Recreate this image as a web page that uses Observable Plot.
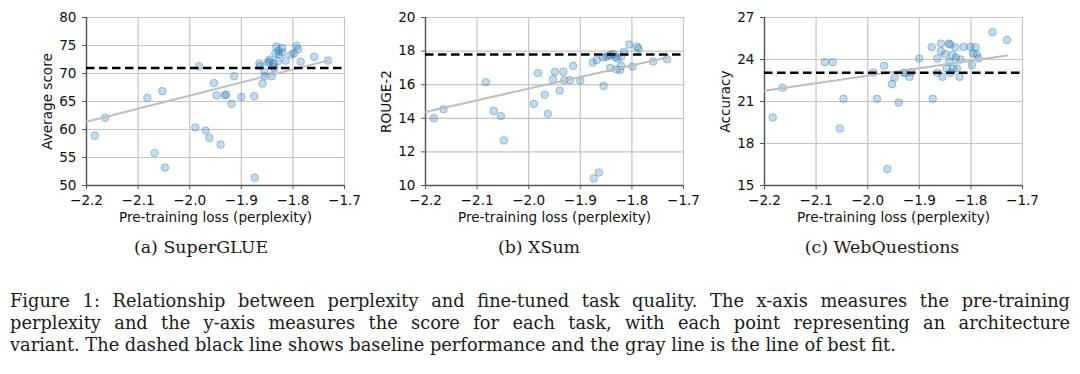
<!DOCTYPE html>
<html><head><meta charset="utf-8">
<script src="https://cdn.jsdelivr.net/npm/d3@7"></script>
<script src="https://cdn.jsdelivr.net/npm/@observablehq/plot@0.6"></script>
<style>
html,body{margin:0;padding:0;background:#fff;}
#wrap{position:relative;width:1080px;height:374px;overflow:hidden;background:#fff;}
.panel{position:absolute;top:0;overflow:visible;}
.sub{position:absolute;top:237px;font-family:"DejaVu Serif",serif;font-size:17.4px;line-height:normal;transform:translateX(-50%);white-space:nowrap;color:#1a1a1a;}
#cap{position:absolute;left:10px;top:290px;width:1060px;font-family:"DejaVu Serif",serif;font-size:17.8px;line-height:22px;color:#1a1a1a;}
.just{text-align:justify;text-align-last:justify;}
</style></head>
<body>
<div id="wrap">
  <div class="sub" style="left:201px">(a) SuperGLUE</div>
  <div class="sub" style="left:539px">(b) XSum</div>
  <div class="sub" style="left:882px">(c) WebQuestions</div>
  <div id="cap">
    <div class="just">Figure 1: Relationship between perplexity and fine-tuned task quality. The x-axis measures the pre-training</div>
    <div class="just">perplexity and the y-axis measures the score for each task, with each point representing an architecture</div>
    <div style="white-space:nowrap">variant. The dashed black line shows baseline performance and the gray line is the line of best fit.</div>
  </div>
</div>
<script>
// ---- shared x axis ----
const xTicks = [-2.2, -2.1, -2.0, -1.9, -1.8, -1.7];
const xLabel = "Pre-training loss (perplexity)";

// ---- (a) SuperGLUE ----
const superglueX = [-2.184,-2.164,-2.082,-2.053,-2.068,-2.048,-1.989,-1.982,-1.969,-1.962,-1.953,-1.948,-1.940,-1.932,-1.929,-1.919,-1.914,-1.900,-1.875,-1.874,-1.865,-1.864,-1.859,-1.855,-1.855,-1.846,-1.845,-1.841,-1.838,-1.837,-1.834,-1.832,-1.829,-1.828,-1.827,-1.821,-1.820,-1.814,-1.803,-1.798,-1.793,-1.790,-1.785,-1.759,-1.732,-1.836,-1.849];
const superglueY = [58.9,62.1,65.65,66.85,55.8,53.2,60.35,71.3,59.8,58.5,68.3,66.1,57.3,66.1,66.25,64.6,69.5,65.8,65.95,51.4,71.8,71.3,68.2,70.3,69.5,72.1,72.5,69.5,71.2,71.8,73.6,74.8,72.2,74.05,73.4,74.6,73.75,72.3,73.4,73.6,74.9,74.3,72.1,73.0,72.3,70.9,71.9];
const superglueTicks = [50, 55, 60, 65, 70, 75, 80];
const superglueBaseline = 71.0;
const superglueFitX = [-2.2, -1.732];
const superglueFitY = [61.4, 72.3];

// ---- (b) XSum ----
const xsumX = [-2.184,-2.165,-2.083,-2.068,-2.054,-2.048,-1.990,-1.982,-1.969,-1.963,-1.953,-1.949,-1.940,-1.933,-1.931,-1.920,-1.914,-1.900,-1.876,-1.874,-1.864,-1.868,-1.856,-1.855,-1.850,-1.842,-1.841,-1.836,-1.832,-1.830,-1.828,-1.823,-1.821,-1.821,-1.815,-1.805,-1.799,-1.790,-1.787,-1.759,-1.732,-1.845];
const xsumY = [14.0,14.54,16.15,14.44,14.13,12.68,14.86,16.69,15.4,14.27,16.33,16.77,15.65,16.77,16.27,16.27,17.12,16.25,17.32,10.42,10.77,17.46,17.62,15.93,17.66,17.0,17.76,17.82,17.66,16.92,17.56,16.87,17.12,17.66,17.96,18.39,17.08,18.25,18.15,17.38,17.52,17.72];
const xsumTicks = [10, 12, 14, 16, 18, 20];
const xsumBaseline = 17.8;
const xsumFitX = [-2.2, -1.732];
const xsumFitY = [14.38, 17.62];

// ---- (c) WebQuestions ----
const webqX = [-2.184,-2.165,-2.083,-2.068,-2.054,-2.047,-1.989,-1.982,-1.968,-1.962,-1.953,-1.948,-1.940,-1.931,-1.926,-1.919,-1.916,-1.900,-1.876,-1.874,-1.865,-1.865,-1.858,-1.858,-1.855,-1.850,-1.847,-1.843,-1.842,-1.840,-1.839,-1.836,-1.834,-1.830,-1.829,-1.827,-1.822,-1.820,-1.814,-1.801,-1.798,-1.796,-1.791,-1.789,-1.785,-1.758,-1.730];
const webqY = [19.86,21.98,23.81,23.81,19.07,21.19,23.07,21.19,23.55,16.17,22.24,22.71,20.93,23.05,23.05,22.76,23.1,24.07,24.88,21.19,24.07,23.05,25.14,24.6,22.76,24.38,23.36,25.14,23.83,25.07,23.05,24.31,23.36,24.86,24.14,23.36,22.76,24.0,24.9,24.9,23.6,24.43,24.88,24.38,24.07,25.95,25.4];
const webqTicks = [15, 18, 21, 24, 27];
const webqBaseline = 23.05;
const webqFitX = [-2.2, -1.730];
const webqFitY = [21.76, 24.29];

const fmtX = d => d.toFixed(1).replace("-", "\u2212");

function panel(opts) {
  const pts = opts.xs.map((x, i) => ({x, y: opts.ys[i]}));
  const fit = opts.fitX.map((x, i) => ({x, y: opts.fitY[i]}));
  const yt = opts.yTicks;
  return Plot.plot({
    width: 362, height: 230,
    marginLeft: 86, marginRight: 18,
    marginTop: 17, marginBottom: 45,
    style: {fontFamily: "DejaVu Sans", fontSize: "13.6px", background: "transparent", color: "#111", overflow: "visible"},
    x: {domain: [xTicks[0], xTicks[xTicks.length - 1]]},
    y: {domain: [yt[0], yt[yt.length - 1]]},
    marks: [
      Plot.gridX(xTicks, {stroke: "#c4c4c4", strokeOpacity: 1, strokeWidth: 1.2}),
      Plot.gridY(yt, {stroke: "#c4c4c4", strokeOpacity: 1, strokeWidth: 1.2}),
      Plot.ruleX([xTicks[0]], {stroke: "#555", strokeWidth: 1.4}),
      Plot.ruleY([yt[0]], {stroke: "#555", strokeWidth: 1.4}),
      Plot.dot(pts, {x: "x", y: "y", r: 3.8, fill: "#1f77b4", fillOpacity: 0.27, stroke: "#1f77b4", strokeOpacity: 0.38, strokeWidth: 1}),
      Plot.line(fit, {x: "x", y: "y", stroke: "#bdbdbd", strokeWidth: 2}),
      Plot.ruleY([opts.baseline], {stroke: "#000", strokeWidth: 2.5, strokeDasharray: "8.5,4.5"}),
      Plot.axisX({ticks: xTicks, tickFormat: fmtX, tickSize: 4, tickPadding: 6, stroke: "#555",
        label: xLabel, labelAnchor: "center", labelOffset: 36, labelArrow: "none"}),
      Plot.axisY({ticks: yt, tickSize: 4, tickPadding: 6, stroke: "#555",
        label: opts.label, labelAnchor: "center", labelOffset: 44, labelArrow: "none"})
    ]
  });
}

const wrap = document.getElementById("wrap");
const specs = [
  {left: 0, xs: superglueX, ys: superglueY, yTicks: superglueTicks, baseline: superglueBaseline, fitX: superglueFitX, fitY: superglueFitY, label: "Average score"},
  {left: 339, xs: xsumX, ys: xsumY, yTicks: xsumTicks, baseline: xsumBaseline, fitX: xsumFitX, fitY: xsumFitY, label: "ROUGE-2"},
  {left: 678, xs: webqX, ys: webqY, yTicks: webqTicks, baseline: webqBaseline, fitX: webqFitX, fitY: webqFitY, label: "Accuracy"}
];
for (const s of specs) {
  const svg = panel(s);
  svg.classList.add("panel");
  svg.style.left = s.left + "px";
  wrap.appendChild(svg);
}
</script>
</body></html>
